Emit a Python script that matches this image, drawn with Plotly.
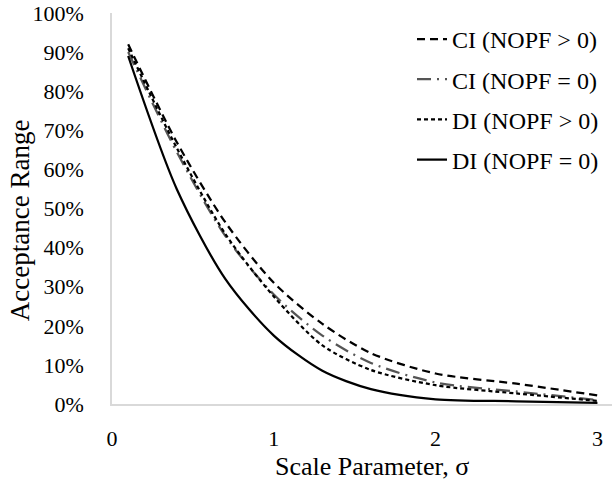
import plotly.graph_objects as go

sigma = [0.1, 0.4, 0.7, 1.0, 1.3, 1.6, 2.0, 2.5, 3.0]
ci_pos = [0.92, 0.67, 0.465, 0.31, 0.205, 0.13, 0.078, 0.052, 0.022]
ci_zero = [0.90, 0.645, 0.43, 0.28, 0.175, 0.105, 0.055, 0.032, 0.010]
di_pos = [0.91, 0.655, 0.435, 0.275, 0.15, 0.087, 0.048, 0.027, 0.008]
di_zero = [0.89, 0.55, 0.32, 0.175, 0.085, 0.038, 0.012, 0.007, 0.003]

names = ["CI (NOPF > 0)", "CI (NOPF = 0)", "DI (NOPF > 0)", "DI (NOPF = 0)"]
series = [ci_pos, ci_zero, di_pos, di_zero]
colors = ["#000000", "#555555", "#000000", "#000000"]
dashes = ["8px,5px", "14px,6px,2px,6px", "4px,3px", "solid"]

x_title = "Scale Parameter, σ"
y_title = "Acceptance Range"

fig = go.Figure()
for i, (n, s) in enumerate(zip(names, series)):
    fig.add_trace(go.Scatter(
        x=sigma, y=s, name=n, mode="lines", legendgroup=str(i),
        line=dict(color=colors[i], width=2.25, dash=dashes[i], shape="spline", smoothing=0.8),
    ))

font = "Liberation Serif, Times New Roman, serif"
fig.update_layout(
    width=616, height=482,
    margin=dict(l=112, r=4, t=13, b=78),
    paper_bgcolor="white", plot_bgcolor="white",
    font=dict(family=font, size=22, color="#000000"),
    showlegend=True,
    legend=dict(x=0.6, y=0.99, xanchor="left", yanchor="top",
                font=dict(family=font, size=24), tracegroupgap=6,
                bgcolor="rgba(0,0,0,0)"),
    xaxis=dict(range=[0, 3.09], tickvals=[0, 1, 2, 3], showgrid=False, zeroline=False,
               showline=True, linecolor="#d9d9d9", linewidth=1.5, ticks="",
               ticklabelstandoff=14, automargin=False),
    yaxis=dict(range=[0, 1], tickvals=[i / 10 for i in range(11)], tickformat=".0%",
               showgrid=False, zeroline=False, showline=True, linecolor="#d9d9d9",
               linewidth=1.5, ticks="", ticklabelstandoff=22, automargin=False),
    annotations=[
        dict(text=x_title, xref="paper", yref="paper", x=0.52, y=-0.161,
             xanchor="center", yanchor="middle", showarrow=False, font=dict(size=26)),
        dict(text=y_title, xref="paper", yref="paper", x=-0.184, y=0.47,
             xanchor="center", yanchor="middle", textangle=-90, showarrow=False,
             font=dict(size=27)),
    ],
)

fig.write_html("out.html")
